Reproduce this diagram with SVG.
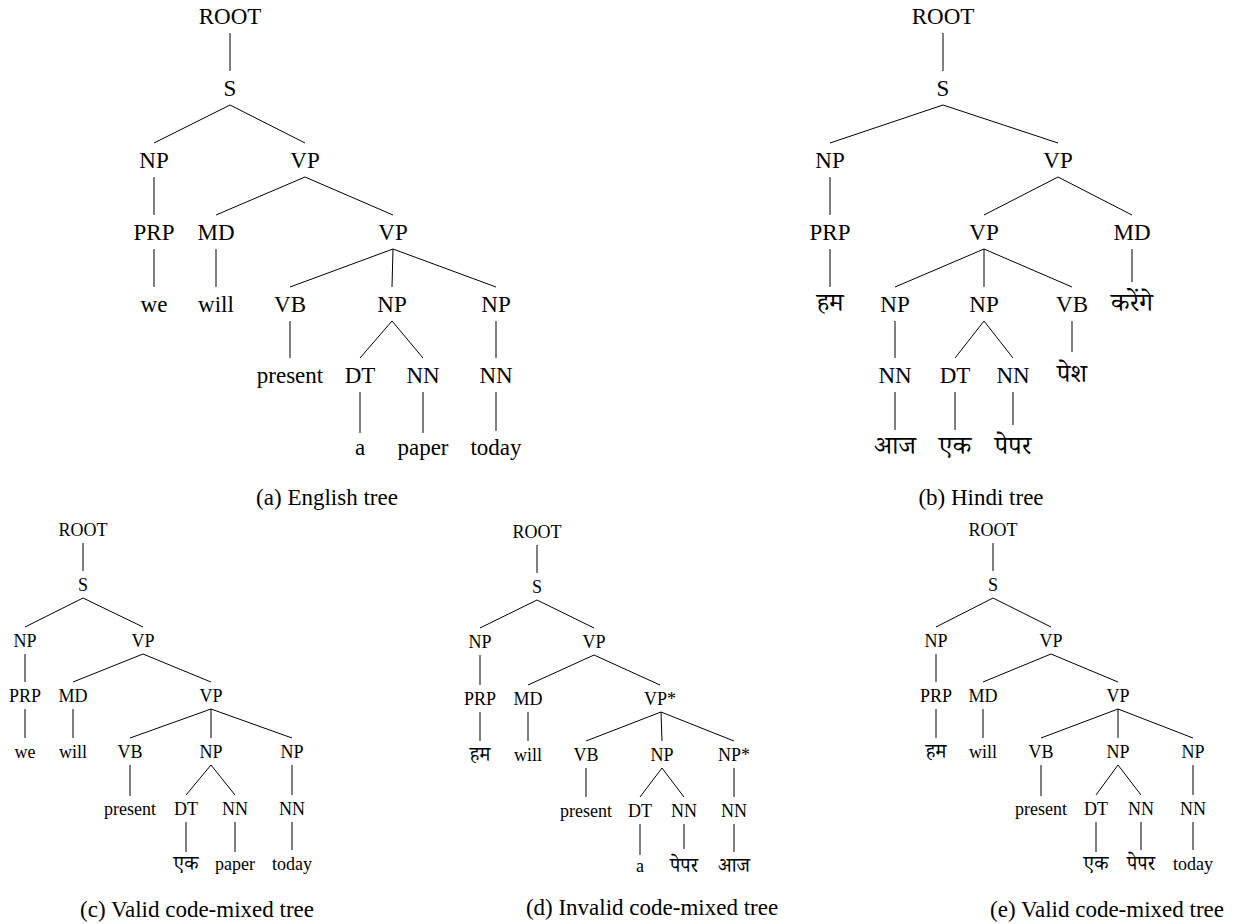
<svg xmlns="http://www.w3.org/2000/svg" width="1234" height="924" viewBox="0 0 1234 924" font-family="'Liberation Serif','Noto Serif Devanagari',serif">
<style>
text{fill:#000;text-anchor:middle}
.big text{font-family:"Liberation Serif","Noto Serif Devanagari",serif;font-size:23px}
.small text{font-family:"Liberation Serif","Noto Serif Devanagari",serif;font-size:18px}
.big text.hi{font-size:26px}
.small text.hi{font-size:20px}
.cap{font-family:"Liberation Serif","Noto Serif Devanagari",serif;font-size:23px}
.edges line{stroke:#000;stroke-width:1}
</style>
<rect width="1234" height="924" fill="#fff"/>
<g id="edges" class="edges">
<!-- tree a -->
<line x1="230" y1="33" x2="230" y2="71"/>
<line x1="230" y1="105" x2="154" y2="143"/>
<line x1="230" y1="105" x2="305" y2="143"/>
<line x1="154" y1="177" x2="154" y2="215"/>
<line x1="305" y1="177" x2="216" y2="215"/>
<line x1="305" y1="177" x2="393" y2="215"/>
<line x1="154" y1="249" x2="154" y2="287"/>
<line x1="216" y1="249" x2="216" y2="287"/>
<line x1="393" y1="249" x2="290" y2="287"/>
<line x1="393" y1="249" x2="392" y2="287"/>
<line x1="393" y1="249" x2="496" y2="287"/>
<line x1="290" y1="321" x2="290" y2="358"/>
<line x1="392" y1="321" x2="360" y2="358"/>
<line x1="392" y1="321" x2="423" y2="358"/>
<line x1="496" y1="321" x2="496" y2="358"/>
<line x1="360" y1="392" x2="360" y2="433"/>
<line x1="423" y1="392" x2="423" y2="433"/>
<line x1="496" y1="392" x2="496" y2="431"/>
<!-- tree b -->
<line x1="943" y1="33" x2="943" y2="71"/>
<line x1="943" y1="105" x2="830" y2="143"/>
<line x1="943" y1="105" x2="1058" y2="143"/>
<line x1="830" y1="177" x2="830" y2="215"/>
<line x1="1058" y1="177" x2="984" y2="215"/>
<line x1="1058" y1="177" x2="1132" y2="215"/>
<line x1="830" y1="249" x2="830" y2="287"/>
<line x1="984" y1="249" x2="895" y2="287"/>
<line x1="984" y1="249" x2="984" y2="287"/>
<line x1="984" y1="249" x2="1072" y2="287"/>
<line x1="1132" y1="249" x2="1132" y2="282"/>
<line x1="895" y1="321" x2="895" y2="358"/>
<line x1="984" y1="321" x2="955" y2="358"/>
<line x1="984" y1="321" x2="1013" y2="358"/>
<line x1="1072" y1="321" x2="1072" y2="352"/>
<line x1="895" y1="392" x2="895" y2="430"/>
<line x1="955" y1="392" x2="955" y2="430"/>
<line x1="1013" y1="392" x2="1013" y2="425"/>
<!-- tree c -->
<line x1="83" y1="543" x2="83" y2="571"/>
<line x1="83" y1="598" x2="25" y2="627"/>
<line x1="83" y1="598" x2="143" y2="627"/>
<line x1="25" y1="654" x2="25" y2="682"/>
<line x1="143" y1="654" x2="73" y2="682"/>
<line x1="143" y1="654" x2="211" y2="682"/>
<line x1="25" y1="709" x2="25" y2="738"/>
<line x1="73" y1="709" x2="73" y2="738"/>
<line x1="211" y1="709" x2="130" y2="738"/>
<line x1="211" y1="709" x2="211" y2="738"/>
<line x1="211" y1="709" x2="292" y2="738"/>
<line x1="130" y1="765" x2="130" y2="796"/>
<line x1="211" y1="765" x2="186" y2="795"/>
<line x1="211" y1="765" x2="235" y2="795"/>
<line x1="292" y1="765" x2="292" y2="795"/>
<line x1="186" y1="822" x2="186" y2="852"/>
<line x1="235" y1="822" x2="235" y2="852"/>
<line x1="292" y1="822" x2="292" y2="850"/>
<!-- tree d -->
<line x1="537" y1="545" x2="537" y2="573"/>
<line x1="537" y1="600" x2="480" y2="628"/>
<line x1="537" y1="600" x2="594" y2="628"/>
<line x1="480" y1="655" x2="480" y2="685"/>
<line x1="594" y1="655" x2="528" y2="685"/>
<line x1="594" y1="655" x2="660" y2="685"/>
<line x1="480" y1="712" x2="480" y2="741"/>
<line x1="528" y1="712" x2="528" y2="741"/>
<line x1="661" y1="712" x2="586" y2="741"/>
<line x1="661" y1="712" x2="662" y2="741"/>
<line x1="661" y1="712" x2="734" y2="741"/>
<line x1="586" y1="768" x2="586" y2="797"/>
<line x1="662" y1="768" x2="640" y2="797"/>
<line x1="662" y1="768" x2="684" y2="797"/>
<line x1="734" y1="768" x2="734" y2="797"/>
<line x1="640" y1="824" x2="640" y2="855"/>
<line x1="684" y1="824" x2="684" y2="849"/>
<line x1="734" y1="824" x2="734" y2="852"/>
<!-- tree e -->
<line x1="993" y1="543" x2="993" y2="571"/>
<line x1="993" y1="598" x2="936" y2="627"/>
<line x1="993" y1="598" x2="1051" y2="627"/>
<line x1="936" y1="654" x2="936" y2="682"/>
<line x1="1051" y1="654" x2="983" y2="682"/>
<line x1="1051" y1="654" x2="1118" y2="682"/>
<line x1="936" y1="709" x2="936" y2="738"/>
<line x1="983" y1="709" x2="983" y2="738"/>
<line x1="1118" y1="709" x2="1041" y2="738"/>
<line x1="1118" y1="709" x2="1118" y2="738"/>
<line x1="1118" y1="709" x2="1193" y2="738"/>
<line x1="1041" y1="765" x2="1041" y2="796"/>
<line x1="1118" y1="765" x2="1096" y2="795"/>
<line x1="1118" y1="765" x2="1141" y2="795"/>
<line x1="1193" y1="765" x2="1193" y2="795"/>
<line x1="1096" y1="822" x2="1096" y2="852"/>
<line x1="1141" y1="822" x2="1141" y2="850"/>
<line x1="1193" y1="822" x2="1193" y2="850"/>
</g>
<g id="tree-a" class="big">
<g id="a_root"><text x="230" y="24">ROOT</text></g>
<g id="a_s"><text x="230" y="96">S</text></g>
<g id="a_np"><text x="154" y="168">NP</text></g>
<g id="a_vp"><text x="305" y="168">VP</text></g>
<g id="a_prp"><text x="154" y="240">PRP</text></g>
<g id="a_md"><text x="216" y="240">MD</text></g>
<g id="a_vp2"><text x="393" y="240">VP</text></g>
<g id="a_we"><text x="154" y="312">we</text></g>
<g id="a_will"><text x="216" y="312">will</text></g>
<g id="a_vb"><text x="290" y="312">VB</text></g>
<g id="a_np2"><text x="392" y="312">NP</text></g>
<g id="a_np3"><text x="496" y="312">NP</text></g>
<g id="a_present"><text x="290" y="383">present</text></g>
<g id="a_dt"><text x="360" y="383">DT</text></g>
<g id="a_nn"><text x="423" y="383">NN</text></g>
<g id="a_nn2"><text x="496" y="383">NN</text></g>
<g id="a_a"><text x="360" y="455">a</text></g>
<g id="a_paper"><text x="423" y="455">paper</text></g>
<g id="a_today"><text x="496" y="455">today</text></g>
</g>
<g id="tree-b" class="big">
<g id="b_root"><text x="943" y="24">ROOT</text></g>
<g id="b_s"><text x="943" y="96">S</text></g>
<g id="b_np"><text x="830" y="168">NP</text></g>
<g id="b_vp"><text x="1058" y="168">VP</text></g>
<g id="b_prp"><text x="830" y="240">PRP</text></g>
<g id="b_vp2"><text x="984" y="240">VP</text></g>
<g id="b_md"><text x="1132" y="240">MD</text></g>
<g id="b_ham"><text class="hi" x="830" y="311">हम</text></g>
<g id="b_np2"><text x="895" y="312">NP</text></g>
<g id="b_np3"><text x="984" y="312">NP</text></g>
<g id="b_vb"><text x="1072" y="312">VB</text></g>
<g id="b_karenge"><text class="hi" x="1132" y="311">करेंगे</text></g>
<g id="b_nn"><text x="895" y="383">NN</text></g>
<g id="b_dt"><text x="955" y="383">DT</text></g>
<g id="b_nn2"><text x="1013" y="383">NN</text></g>
<g id="b_pesh"><text class="hi" x="1072" y="382">पेश</text></g>
<g id="b_aaj"><text class="hi" x="895" y="454">आज</text></g>
<g id="b_ek"><text class="hi" x="955" y="454">एक</text></g>
<g id="b_paper"><text class="hi" x="1013" y="454">पेपर</text></g>
</g>
<g id="tree-c" class="small">
<g id="c_root"><text x="83" y="536">ROOT</text></g>
<g id="c_s"><text x="83" y="591">S</text></g>
<g id="c_np"><text x="25" y="647">NP</text></g>
<g id="c_vp"><text x="143" y="647">VP</text></g>
<g id="c_prp"><text x="25" y="702">PRP</text></g>
<g id="c_md"><text x="73" y="702">MD</text></g>
<g id="c_vp2"><text x="211" y="702">VP</text></g>
<g id="c_we"><text x="25" y="758">we</text></g>
<g id="c_will"><text x="73" y="758">will</text></g>
<g id="c_vb"><text x="130" y="758">VB</text></g>
<g id="c_np2"><text x="211" y="758">NP</text></g>
<g id="c_np3"><text x="292" y="758">NP</text></g>
<g id="c_present"><text x="130" y="815">present</text></g>
<g id="c_dt"><text x="186" y="815">DT</text></g>
<g id="c_nn"><text x="235" y="815">NN</text></g>
<g id="c_nn2"><text x="292" y="815">NN</text></g>
<g id="c_ek"><text class="hi" x="186" y="870">एक</text></g>
<g id="c_paper"><text x="235" y="870">paper</text></g>
<g id="c_today"><text x="292" y="870">today</text></g>
</g>
<g id="tree-d" class="small">
<g id="d_root"><text x="537" y="538">ROOT</text></g>
<g id="d_s"><text x="537" y="593">S</text></g>
<g id="d_np"><text x="480" y="648">NP</text></g>
<g id="d_vp"><text x="594" y="648">VP</text></g>
<g id="d_prp"><text x="480" y="705">PRP</text></g>
<g id="d_md"><text x="528" y="705">MD</text></g>
<g id="d_vp2"><text x="660" y="705">VP*</text></g>
<g id="d_ham"><text class="hi" x="480" y="761">हम</text></g>
<g id="d_will"><text x="528" y="761">will</text></g>
<g id="d_vb"><text x="586" y="761">VB</text></g>
<g id="d_np2"><text x="662" y="761">NP</text></g>
<g id="d_np3"><text x="734" y="761">NP*</text></g>
<g id="d_present"><text x="586" y="817">present</text></g>
<g id="d_dt"><text x="640" y="817">DT</text></g>
<g id="d_nn"><text x="684" y="817">NN</text></g>
<g id="d_nn2"><text x="734" y="817">NN</text></g>
<g id="d_a"><text x="640" y="872">a</text></g>
<g id="d_paper"><text class="hi" x="684" y="872">पेपर</text></g>
<g id="d_aaj"><text class="hi" x="734" y="872">आज</text></g>
</g>
<g id="tree-e" class="small">
<g id="e_root"><text x="993" y="536">ROOT</text></g>
<g id="e_s"><text x="993" y="591">S</text></g>
<g id="e_np"><text x="936" y="647">NP</text></g>
<g id="e_vp"><text x="1051" y="647">VP</text></g>
<g id="e_prp"><text x="936" y="702">PRP</text></g>
<g id="e_md"><text x="983" y="702">MD</text></g>
<g id="e_vp2"><text x="1118" y="702">VP</text></g>
<g id="e_ham"><text class="hi" x="936" y="758">हम</text></g>
<g id="e_will"><text x="983" y="758">will</text></g>
<g id="e_vb"><text x="1041" y="758">VB</text></g>
<g id="e_np2"><text x="1118" y="758">NP</text></g>
<g id="e_np3"><text x="1193" y="758">NP</text></g>
<g id="e_present"><text x="1041" y="815">present</text></g>
<g id="e_dt"><text x="1096" y="815">DT</text></g>
<g id="e_nn"><text x="1141" y="815">NN</text></g>
<g id="e_nn2"><text x="1193" y="815">NN</text></g>
<g id="e_ek"><text class="hi" x="1096" y="870">एक</text></g>
<g id="e_paper"><text class="hi" x="1141" y="870">पेपर</text></g>
<g id="e_today"><text x="1193" y="870">today</text></g>
</g>
<g id="captions">
<text class="cap" x="327" y="505">(a) English tree</text>
<text class="cap" x="981" y="505">(b) Hindi tree</text>
<text class="cap" x="197" y="917">(c) Valid code-mixed tree</text>
<text class="cap" x="652" y="915">(d) Invalid code-mixed tree</text>
<text class="cap" x="1107" y="917">(e) Valid code-mixed tree</text>
</g>
</svg>
